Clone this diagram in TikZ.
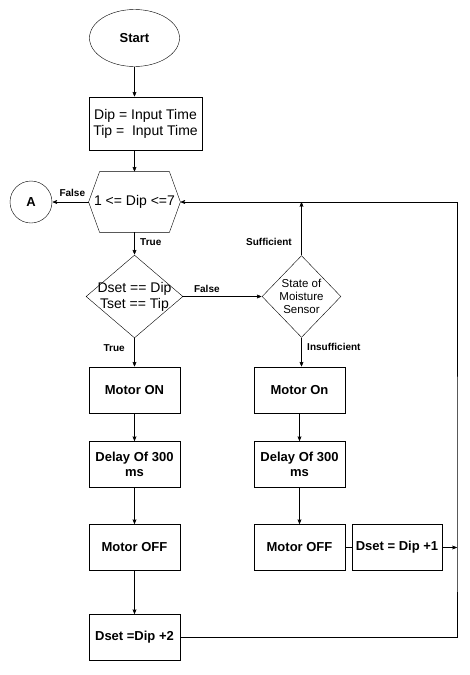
\documentclass[tikz,border=0pt]{standalone}
\usepackage{fontspec}
\setmainfont{Liberation Sans}
\usetikzlibrary{arrows}
\usetikzlibrary{positioning}
\usetikzlibrary{shapes.geometric}

\begin{document}
\begin{tikzpicture}
      \tikzset{
        >=stealth',
        line width=0.8pt,
        every node/.style={align=center},
        box/.style={draw, minimum width=91pt, minimum height=46pt, inner sep=2pt,
          font=\bfseries\fontsize{13pt}{15pt}\selectfont},
        decision/.style={draw, diamond, inner xsep=-20pt, inner ysep=-10pt},
        hexa/.style={minimum width=91pt, minimum height=60pt, inner sep=1pt,
          font=\fontsize{14pt}{16pt}\selectfont},
        lbl/.style={font=\bfseries\fontsize{10pt}{12pt}\selectfont},
      }
      \useasboundingbox (0,0) rectangle (470pt,-675pt);

      \node[draw, ellipse, minimum width=90pt, minimum height=57pt,
        font=\bfseries\fontsize{13pt}{15pt}\selectfont] (start) at (134.5pt,-38pt) {Start};
      \node[draw, minimum width=113pt, minimum height=53pt, inner sep=2pt,
        font=\fontsize{14pt}{16pt}\selectfont,
        below of=start, node distance=85.5pt, xshift=11pt] (input) {Dip = Input Time\\Tip =\ \ Input Time};
      \node[hexa, below of=start, node distance=164pt] (range) {1 <= Dip <=7};
      \draw (range.west) -- ([xshift=11pt]range.north west) -- ([xshift=-11pt]range.north east)
        -- (range.east) -- ([xshift=-11pt]range.south east) -- ([xshift=11pt]range.south west) -- cycle;
      \node[draw, circle, minimum size=42pt, inner sep=0pt,
        font=\bfseries\fontsize{13pt}{15pt}\selectfont,
        left of=range, node distance=103.5pt] (A) {A};
      \node[decision, minimum width=97pt, minimum height=83pt,
        font=\fontsize{14pt}{16pt}\selectfont,
        below of=range, node distance=94.5pt] (check) {Dset == Dip\\Tset == Tip};
      \node[decision, minimum width=79pt, minimum height=82pt,
        font=\fontsize{11.5pt}{13pt}\selectfont,
        right of=check, node distance=167pt] (sensor) {State of\\Moisture\\Sensor};

      \node[box, below of=check, node distance=93.5pt] (onA) {Motor ON};
      \node[box, below of=onA, node distance=74.5pt] (delayA) {Delay Of 300\\ms};
      \node[box, below of=delayA, node distance=83pt] (offA) {Motor OFF};
      \node[box, below of=offA, node distance=90pt] (incA) {Dset =Dip +2};

      \node[box, right of=onA, node distance=165pt] (onB) {Motor On};
      \node[box, below of=onB, node distance=74.5pt] (delayB) {Delay Of 300\\ms};
      \node[box, below of=delayB, node distance=83pt] (offB) {Motor OFF};
      \node[box, minimum width=90pt, right of=offB, node distance=97.5pt] (incB) {Dset = Dip +1};
      \coordinate[right of=incB, node distance=60pt] (back);

      \draw[->] (start) -- (start |- input.north);
      \draw[->] (range |- input.south) -- (range.north);
      \draw[->] (range) -- node[lbl, above, pos=0.45, yshift=2pt] {False} (A);
      \draw[->] (range) -- node[lbl, right, pos=0.45, xshift=2pt] {True} (check);
      \draw[->] (check) -- node[lbl, above, pos=0.3] {False} (sensor);
      \draw[->] (sensor) -- node[lbl, left, pos=0.25, xshift=-6pt] {Sufficient} (sensor |- range);
      \draw[->] (check) -- node[lbl, left, pos=0.35, xshift=-6pt] {True} (onA);
      \draw[->] (sensor) -- node[lbl, right, pos=0.3, xshift=2pt] {Insufficient} (sensor |- onB.north);

      \draw[->] (onA) -- (delayA);
      \draw[->] (delayA) -- (offA);
      \draw[->] (offA) -- (incA);
      \draw[->] (onB) -- (delayB);
      \draw[->] (delayB) -- (offB);
      \draw (offB) -- (incB);
      \draw[->] (incB) -- (back);
      \draw[->] (incA) -| (back) |- (range);
\end{tikzpicture}
\end{document}
